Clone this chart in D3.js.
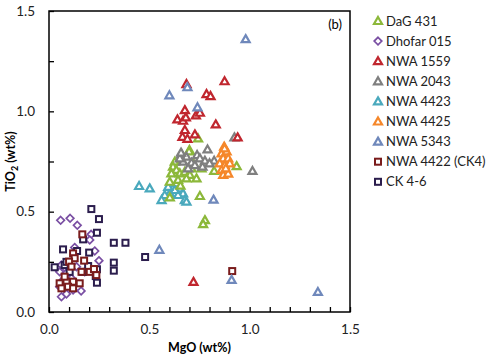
<!DOCTYPE html>
<html><head><meta charset="utf-8">
<script src="https://cdn.jsdelivr.net/npm/d3@7"></script>
<style>body{margin:0;background:#fff}svg{display:block}</style>
</head><body>
<script>
const seriesNames = ["DaG 431","Dhofar 015","NWA 1559","NWA 2043","NWA 4423","NWA 4425","NWA 5343","NWA 4422 (CK4)","CK 4-6"];
const seriesColors = ["#8cb83a","#7a4fa3","#c0262e","#7f7f7f","#4aa9bd","#f5872a","#6f88bb","#7a1c1c","#2b1d4d"];
const seriesShapes = ["tri","dia","tri","tri","tri","tri","tri","sq","sq"];

const dag431 = [[0.70,0.807],[0.627,0.749],[0.618,0.724],[0.635,0.708],[0.61,0.691],[0.652,0.691],[0.677,0.699],[0.702,0.683],[0.735,0.666],[0.685,0.666],[0.602,0.649],[0.643,0.658],[0.71,0.716],[0.76,0.716],[0.823,0.703],[0.935,0.727],[0.752,0.578],[0.602,0.571],[0.777,0.458],[0.768,0.438],[0.743,0.865],[0.698,0.80],[0.655,0.63],[0.72,0.74],[0.66,0.76]];
const dhofar015 = [[0.058,0.457],[0.105,0.467],[0.141,0.432],[0.21,0.387],[0.203,0.359],[0.128,0.322],[0.249,0.256],[0.062,0.234],[0.078,0.223],[0.053,0.20],[0.087,0.193],[0.07,0.159],[0.112,0.168],[0.062,0.076],[0.087,0.09],[0.12,0.11],[0.16,0.105],[0.053,0.126],[0.103,0.135],[0.178,0.20],[0.137,0.226],[0.228,0.304]];
const nwa1559 = [[0.685,1.136],[0.875,1.15],[0.785,1.086],[0.805,1.076],[0.677,1.006],[0.64,0.96],[0.668,0.953],[0.682,0.97],[0.732,0.98],[0.752,0.993],[0.831,0.935],[0.677,0.907],[0.727,0.885],[0.665,0.873],[0.69,0.863],[0.94,0.87],[0.72,0.15]];
const nwa2043 = [[0.79,0.81],[0.66,0.787],[0.685,0.774],[0.738,0.782],[0.752,0.766],[0.777,0.754],[0.823,0.754],[0.71,0.744],[0.668,0.749],[0.727,0.732],[0.765,0.724],[0.80,0.741],[0.693,0.716],[0.652,0.766],[1.014,0.703],[0.924,0.87],[0.658,0.794]];
const nwa4423 = [[0.449,0.628],[0.502,0.616],[0.635,0.641],[0.618,0.616],[0.652,0.616],[0.602,0.591],[0.668,0.591],[0.577,0.583],[0.561,0.558],[0.643,0.583],[0.677,0.558],[0.685,0.55],[0.627,0.608],[0.594,0.624]];
const nwa4425 = [[0.873,0.824],[0.86,0.79],[0.885,0.80],[0.868,0.766],[0.893,0.766],[0.851,0.741],[0.876,0.732],[0.901,0.741],[0.86,0.708],[0.885,0.70],[0.868,0.683],[0.893,0.69],[0.881,0.716],[0.875,0.815]];
const nwa5343 = [[0.98,1.36],[0.60,1.08],[0.69,1.12],[0.74,1.02],[0.82,0.56],[0.55,0.31],[0.91,0.16],[1.34,0.10]];
const nwa4422 = [[0.166,0.387],[0.12,0.292],[0.128,0.268],[0.175,0.256],[0.10,0.251],[0.112,0.226],[0.162,0.20],[0.203,0.20],[0.236,0.184],[0.053,0.143],[0.087,0.151],[0.12,0.151],[0.153,0.143],[0.062,0.118],[0.095,0.126],[0.12,0.118],[0.078,0.176],[0.224,0.214],[0.913,0.204]];
const ck46 = [[0.211,0.513],[0.249,0.463],[0.239,0.395],[0.17,0.362],[0.323,0.345],[0.381,0.345],[0.07,0.312],[0.14,0.304],[0.20,0.296],[0.323,0.246],[0.323,0.206],[0.479,0.274],[0.028,0.223],[0.078,0.234],[0.239,0.213],[0.233,0.179],[0.239,0.146],[0.103,0.20],[0.17,0.20],[0.087,0.25],[0.195,0.229]];
const seriesData = [dag431,dhofar015,nwa1559,nwa2043,nwa4423,nwa4425,nwa5343,nwa4422,ck46];
const yTickLabels = [0,0.5,1.0,1.5];
const xTickLabels = [0,0.5,1.0,1.5];

const W=493,H=359;
const m={l:49,r:143,t:11,b:47};
const svg=d3.select("body").append("svg").attr("width",W).attr("height",H);
const x=d3.scaleLinear().domain([0,1.5]).range([m.l,W-m.r]);
const y=d3.scaleLinear().domain([0,1.5]).range([H-m.b,m.t]);
const font="Lato, 'Open Sans', sans-serif";

svg.append("g").attr("transform",`translate(0,${H-m.b})`)
  .call(d3.axisBottom(x).tickValues(d3.range(0,1.51,0.1)).tickSizeInner(-5).tickSizeOuter(0).tickFormat(""))
  .call(g=>g.select(".domain").remove()).selectAll("line").attr("stroke","#000").attr("stroke-width",1.3);
svg.append("g").attr("transform",`translate(${m.l},0)`)
  .call(d3.axisLeft(y).tickValues(d3.range(0,1.51,0.25)).tickSizeInner(-5).tickSizeOuter(0).tickFormat(""))
  .call(g=>g.select(".domain").remove()).selectAll("line").attr("stroke","#000").attr("stroke-width",1.3);

svg.append("g").attr("transform",`translate(0,${H-m.b})`)
  .call(d3.axisBottom(x).tickValues(xTickLabels).tickSize(0).tickPadding(12).tickFormat(d3.format(".1f")))
  .call(g=>g.select(".domain").remove())
  .selectAll("text").attr("font-family",font).attr("font-size",13.5).attr("fill","#222");
svg.append("g").attr("transform",`translate(${m.l},0)`)
  .call(d3.axisLeft(y).tickValues(yTickLabels).tickSize(0).tickPadding(14).tickFormat(d3.format(".1f")))
  .call(g=>g.select(".domain").remove())
  .selectAll("text").attr("font-family",font).attr("font-size",13.5).attr("fill","#222");

svg.append("rect").attr("x",m.l).attr("y",m.t).attr("width",W-m.r-m.l).attr("height",H-m.b-m.t)
  .attr("fill","none").attr("stroke","#000").attr("stroke-width",1.5);

svg.append("text").attr("x",x(1.5)-8).attr("y",y(1.5)+18).attr("text-anchor","end")
  .attr("font-family",font).attr("font-size",13).text("(b)");

svg.append("text").attr("x",(m.l+W-m.r)/2).attr("y",H-7).attr("text-anchor","middle")
  .attr("font-family",font).attr("font-size",12.5).attr("font-weight","bold").text("MgO (wt%)");
const yl=svg.append("text").attr("transform",`translate(15,${(m.t+H-m.b)/2}) rotate(-90)`).attr("text-anchor","middle")
  .attr("font-family",font).attr("font-size",12.5).attr("font-weight","bold");
yl.append("tspan").text("TiO");
yl.append("tspan").attr("font-size",9).attr("dy",3).text("2");
yl.append("tspan").attr("dy",-3).text(" (wt%)");

function drawMarker(g,shape,color){
  if(shape==="tri") g.append("path").attr("d","M0,-4L4,3L-4,3Z").attr("fill","#fff").attr("stroke",color).attr("stroke-width",2.2).attr("stroke-linejoin","miter");
  else if(shape==="sq") g.append("rect").attr("x",-3).attr("y",-3).attr("width",6).attr("height",6).attr("fill","#fff").attr("stroke",color).attr("stroke-width",2);
  else g.append("path").attr("d","M0,-3.8L3.8,0L0,3.8L-3.8,0Z").attr("fill","#fff").attr("stroke",color).attr("stroke-width",1.7);
}

const order=[1,8,7,4,0,3,5,2,6];
order.forEach(i=>{
  const g=svg.append("g");
  g.selectAll("g").data(seriesData[i]).join("g")
    .attr("transform",d=>`translate(${x(d[0])},${y(d[1])})`)
    .each(function(){drawMarker(d3.select(this),seriesShapes[i],seriesColors[i]);});
});

const lg=svg.append("g");
seriesNames.forEach((n,i)=>{
  const gy=21+i*20.1;
  const g=lg.append("g").attr("transform",`translate(378,${gy})`);
  drawMarker(g,seriesShapes[i],seriesColors[i]);
  lg.append("text").attr("x",386).attr("y",gy+4.5).attr("font-family",font).attr("font-size",13).attr("fill","#222").text(n);
});
</script>
</body></html>
